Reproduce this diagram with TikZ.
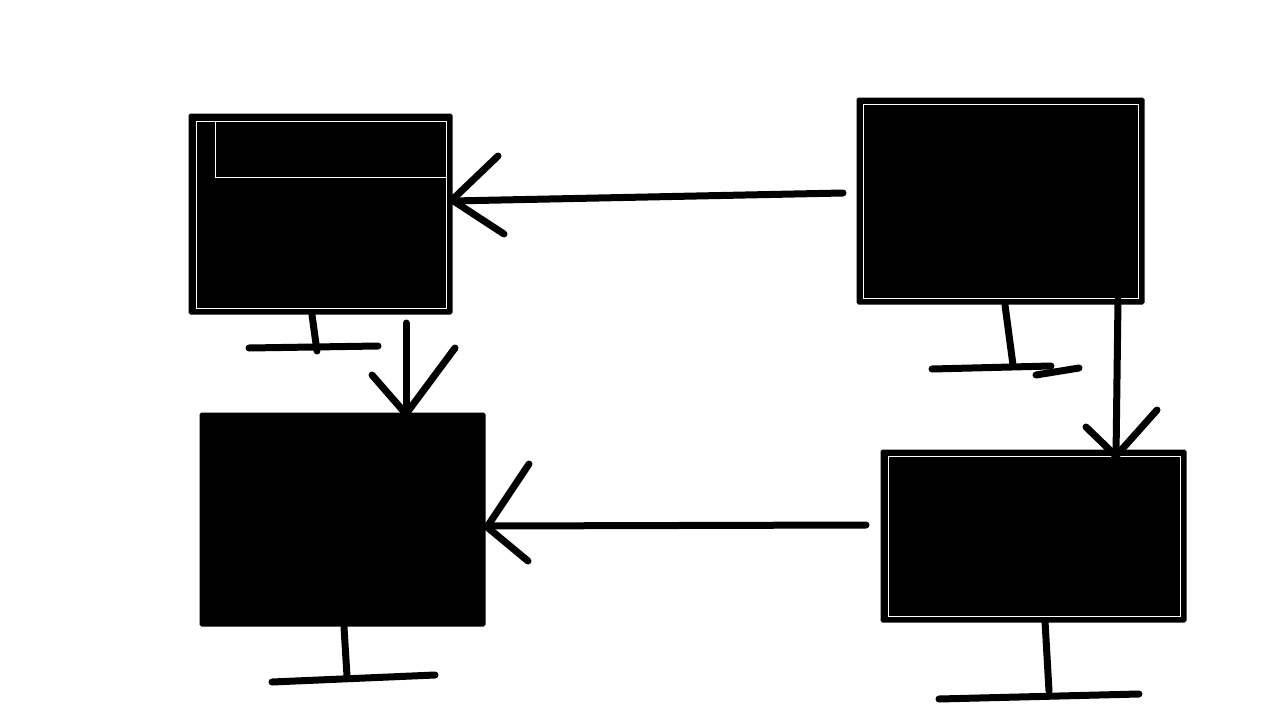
\documentclass[tikz,border=0pt]{standalone}
\begin{document}
\begin{tikzpicture}[x=1pt,y=-1pt,
  scr/.style={fill=black,draw=black,line width=3pt,rounded corners=1pt},
  inner/.style={draw=white,line width=0.8pt},
  pen/.style={line width=7pt,line cap=round,draw=black}]
\useasboundingbox (0,0) rectangle (1280,720);
% monitor 1
\filldraw[scr] (190,115) rectangle (451,313);
\draw[inner] (196,121) rectangle (446,308);
\draw[inner] (215,177) -- (446,177);
\draw[inner] (215,121) -- (215,177);
\draw[pen] (312,315) -- (317,351);
\draw[pen] (249,348) -- (378,346);
% monitor 2
\filldraw[scr] (858,99) rectangle (1143,303);
\draw[inner] (863,104) rectangle (1138,298);
\draw[pen] (1005,305) -- (1013,365);
\draw[pen] (932,369) -- (1051,366);
\draw[pen] (1036,375) -- (1079,368);
% monitor 3
\filldraw[scr] (201,414) rectangle (484,625);
\draw[pen] (344,627) -- (347,676);
\draw[pen] (272,682) -- (435,675);
% monitor 4
\filldraw[scr] (882,451) rectangle (1185,621);
\draw[inner] (888,456) rectangle (1180,616);
\draw[pen] (1045,621) -- (1049,691);
\draw[pen] (939,699) -- (1139,694);
% arrows
\draw[pen] (843,193) -- (452,201);
\draw[pen] (452,200) -- (498,156);
\draw[pen] (452,200) -- (504,234);
\draw[pen] (406,323) -- (406,414);
\draw[pen] (406,414) -- (372,375);
\draw[pen] (406,414) -- (455,348);
\draw[pen] (1118,300) -- (1116,456);
\draw[pen] (1116,456) -- (1086,427);
\draw[pen] (1116,456) -- (1157,410);
\draw[pen] (866,525) -- (487,526);
\draw[pen] (487,527) -- (529,464);
\draw[pen] (487,527) -- (528,561);
\end{tikzpicture}
\end{document}
